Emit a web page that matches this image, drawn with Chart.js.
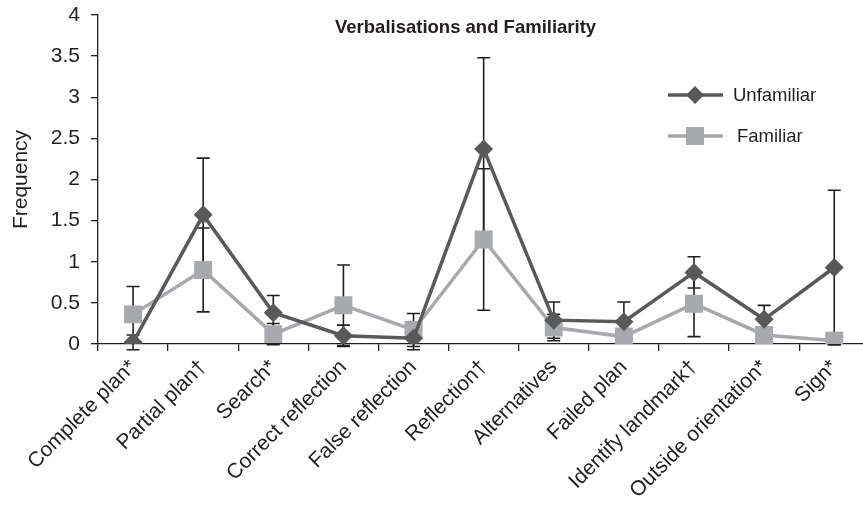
<!DOCTYPE html>
<html>
<head>
<meta charset="utf-8">
<script src="https://cdn.jsdelivr.net/npm/chart.js@4.4.1/dist/chart.umd.min.js"></script>
<style>
  html, body { margin: 0; padding: 0; background: #fff; overflow: hidden; width: 863px; height: 508px; }
  #c { position: absolute; left: 0; top: 0; }
  #title { position: absolute; left: 335px; top: 16px; font: bold 18.5px "Liberation Sans", Arial, sans-serif; color: #231f20; white-space: nowrap; }
  .leg { position: absolute; font: 18.5px "Liberation Sans", Arial, sans-serif; color: #231f20; white-space: nowrap; }
  .legsym { position: absolute; }
</style>
</head>
<body>
<canvas id="c" width="882" height="508" style="width:882px;height:508px"></canvas>
<div id="title">Verbalisations and Familiarity</div>
<svg class="legsym" style="left:664px;top:80px" width="64" height="70">
  <line x1="4" y1="15" x2="59" y2="15" stroke="#58595b" stroke-width="3.5"/>
  <polygon points="31,6 40,15 31,24 22,15" fill="#58595b"/>
  <line x1="4" y1="56" x2="59" y2="56" stroke="#a7a9ac" stroke-width="3.5"/>
  <rect x="22" y="47" width="18" height="18" fill="#a7a9ac"/>
</svg>
<div class="leg" style="left:733px;top:84px">Unfamiliar</div>
<div class="leg" style="left:737px;top:125px">Familiar</div>
<script>
const categories = ["Complete plan*", "Partial plan†", "Search*", "Correct reflection", "False reflection", "Reflection†", "Alternatives", "Failed plan", "Identify landmark†", "Outside orientation*", "Sign*"];
const unfamiliar    = [0.02, 1.57, 0.38, 0.10, 0.07, 2.37, 0.29, 0.27, 0.87, 0.30, 0.93];
const unfamiliarErr = [0.09, 0.69, 0.21, 0.13, 0.14, 1.11, 0.22, 0.24, 0.19, 0.17, 0.94];
const familiar      = [0.36, 0.90, 0.12, 0.47, 0.17, 1.27, 0.20, 0.09, 0.49, 0.11, 0.04];
const familiarErr   = [0.34, 0.51, 0.13, 0.49, 0.20, 0.86, 0.16, 0.05, 0.40, 0.08, 0.05];
const yTicks = [0, 0.5, 1, 1.5, 2, 2.5, 3, 3.5, 4];

const errorBars = {
  id: 'errorBars',
  beforeDatasetsDraw(chart) {
    const ctx = chart.ctx;
    const ys = chart.scales.y;
    ctx.save();
    ctx.strokeStyle = '#231f20';
    ctx.lineWidth = 1.6;
    chart.data.datasets.forEach((ds, di) => {
      const meta = chart.getDatasetMeta(di);
      meta.data.forEach((pt, i) => {
        const v = ds.data[i], e = ds.err[i];
        const yHi = ys.getPixelForValue(v + e);
        const yLo = ys.getPixelForValue(v - e);
        const x = pt.x;
        ctx.beginPath();
        ctx.moveTo(x, yHi); ctx.lineTo(x, yLo);
        ctx.moveTo(x - 6.5, yHi); ctx.lineTo(x + 6.5, yHi);
        ctx.moveTo(x - 6.5, yLo); ctx.lineTo(x + 6.5, yLo);
        ctx.stroke();
      });
    });
    ctx.restore();
  }
};

const font = "'Liberation Sans', Arial, sans-serif";
new Chart(document.getElementById('c'), {
  type: 'line',
  data: {
    labels: categories,
    datasets: [
      { label: 'Unfamiliar', data: unfamiliar, err: unfamiliarErr, borderColor: '#58595b', backgroundColor: '#58595b',
        borderWidth: 3.5, pointStyle: 'rectRot', pointRadius: 9.5, pointHoverRadius: 9.5, pointBorderWidth: 0, tension: 0 },
      { label: 'Familiar', data: familiar, err: familiarErr, borderColor: '#a7a9ac', backgroundColor: '#a7a9ac',
        borderWidth: 3.5, pointStyle: 'rect', pointRadius: 12.7, pointHoverRadius: 12.7, pointBorderWidth: 0, tension: 0 }
    ]
  },
  options: {
    responsive: false,
    maintainAspectRatio: false,
    devicePixelRatio: 1,
    animation: false,
    events: [],
    layout: { padding: { top: 15, right: 1, left: 0, bottom: 0 } },
    plugins: { legend: { display: false }, title: { display: false }, tooltip: { enabled: false } },
    scales: {
      x: {
        offset: true,
        grid: { offset: true, drawOnChartArea: false, drawTicks: true, tickLength: 7, color: '#231f20', lineWidth: 1.3 },
        border: { color: '#231f20', width: 1.3 },
        ticks: { color: '#231f20', font: { family: font, size: 21 }, minRotation: 45, maxRotation: 45, padding: 4, autoSkip: false },
        afterFit(scale) { scale.height = 164; scale.paddingLeft = 0; scale.paddingRight = 0; }
      },
      y: {
        min: 0, max: 4,
        afterBuildTicks(scale) { scale.ticks = yTicks.map(v => ({ value: v })); },
        grid: { drawOnChartArea: false, drawTicks: true, tickLength: 7, color: '#231f20', lineWidth: 1.3 },
        border: { color: '#231f20', width: 1.3 },
        ticks: { color: '#231f20', font: { family: font, size: 21 }, padding: 11, callback: v => String(v) },
        title: { display: true, text: 'Frequency', color: '#231f20', font: { family: font, size: 21 }, padding: { top: 9, bottom: 0 } },
        afterFit(scale) { scale.width = 98; scale.paddingTop = 0; scale.paddingBottom = 0; }
      }
    }
  },
  plugins: [errorBars]
});
</script>
</body>
</html>
